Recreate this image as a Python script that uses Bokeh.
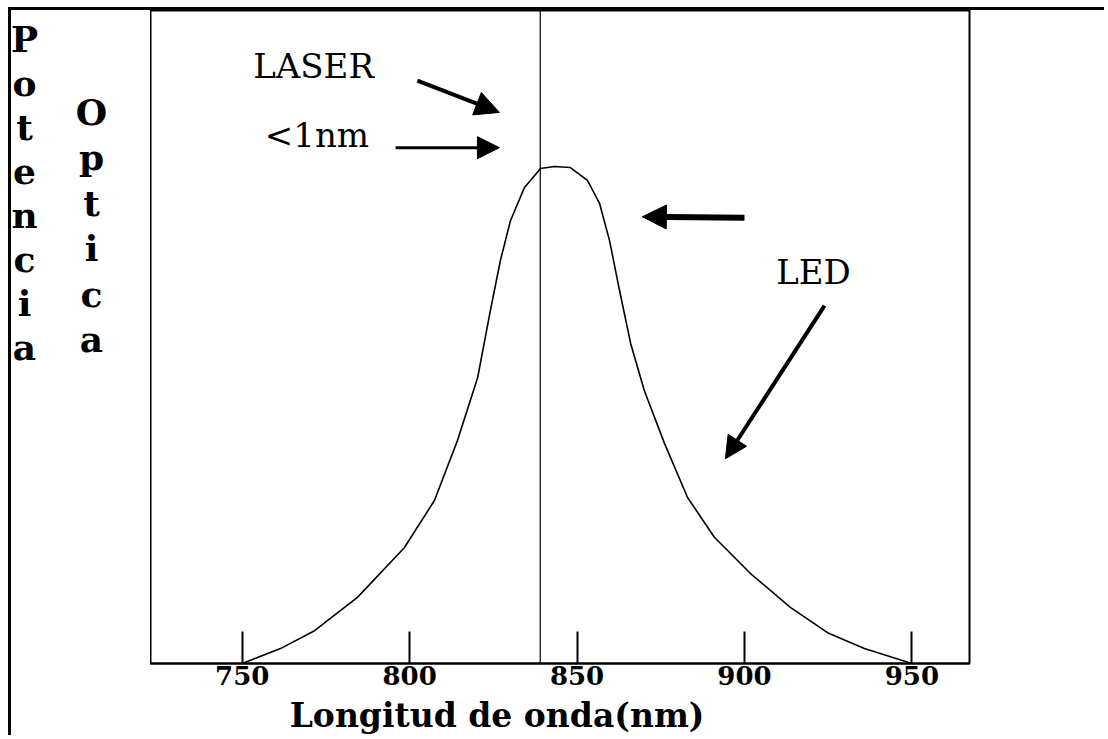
from bokeh.plotting import figure
from bokeh.layouts import row, column
from bokeh.models import Arrow, NormalHead, Label, Span, FixedTicker, Range1d
from bokeh.embed import file_html
from bokeh.resources import INLINE

# ---- data ----
wavelength_nm = [750, 761.4, 771.6, 784.4, 798.4, 807.4, 814.3, 820.3, 824.1, 827.1,
                 830.1, 834.3, 839.1, 843.2, 848.0, 853.1, 856.7, 859.7, 862.7, 866.0,
                 870.1, 876.1, 883.0, 891.0, 901.8, 913.7, 924.8, 935.8, 950]
led_power = [0, 0.030, 0.066, 0.133, 0.233, 0.328, 0.449, 0.575, 0.710, 0.811,
             0.891, 0.958, 0.996, 1.0, 0.998, 0.972, 0.926, 0.851, 0.750, 0.644,
             0.549, 0.443, 0.334, 0.254, 0.181, 0.113, 0.062, 0.030, 0]
laser_nm = 839
tick_nm = [750, 800, 850, 900, 950]
tick_labels = ["750", "800", "850", "900", "950"]
x_title = "Longitud de onda(nm)"
y_title_1 = "Potencia"
y_title_2 = "Optica"

SERIF = "DejaVu Serif"


def bare(fig):
    fig.xgrid.visible = False
    fig.ygrid.visible = False
    fig.outline_line_color = None
    fig.background_fill_color = "white"
    fig.border_fill_color = "white"


# ---------- left strip with the stacked y title ----------
left = figure(width=142, height=728, x_range=Range1d(0, 142), y_range=Range1d(0, 728),
              output_backend="svg", toolbar_location=None,
              x_axis_location=None, y_axis_location=None,
              min_border_left=0, min_border_right=0, min_border_top=0, min_border_bottom=0)
bare(left)
left.styles = {"border-left": "3px solid black", "border-top": "3px solid black"}
for x, y, t, lh in [(13, 721, y_title_1, 1.05), (80, 648, y_title_2, 1.085)]:
    left.add_layout(Label(x=x, y=y, text="\n".join(t), text_font=SERIF, text_font_size="36px",
                          text_font_style="bold", text_color="black", text_align="center",
                          text_baseline="top", text_line_height=lh))

# ---------- main chart ----------
x_rng = Range1d(722.6, 967.2)
p = figure(width=954, height=687, x_range=x_rng, y_range=Range1d(0, 1.314),
           output_backend="svg", toolbar_location=None, y_axis_location=None,
           min_border_left=0, min_border_right=135, min_border_top=0, min_border_bottom=34)
bare(p)
p.styles = {"border-top": "3px solid black"}
p.outline_line_color = "black"
p.outline_line_width = 2

ax = p.xaxis[0]
ax.ticker = FixedTicker(ticks=tick_nm, minor_ticks=[])
ax.major_label_overrides = {t: l for t, l in zip(tick_nm, tick_labels)}
ax.major_tick_in = 32
ax.major_tick_out = 0
ax.minor_tick_in = 0
ax.minor_tick_out = 0
ax.major_tick_line_width = 2
ax.major_tick_line_color = "black"
ax.axis_line_width = 2
ax.axis_line_color = "black"
ax.major_label_text_font = SERIF
ax.major_label_text_font_size = "26px"
ax.major_label_text_font_style = "bold"
ax.major_label_text_color = "black"
ax.major_label_standoff = 2

# LED spectrum
p.line(wavelength_nm, led_power, line_color="black", line_width=1.6)

# laser line
p.add_layout(Span(location=laser_nm, dimension="height", line_color="black", line_width=1.2))


def arrow(xs, ys, xe, ye, w, size):
    p.add_layout(Arrow(end=NormalHead(size=size, fill_color="black", line_color="black", line_width=1),
                       x_start=xs, y_start=ys, x_end=xe, y_end=ye,
                       line_width=w, line_color="black"))


arrow(802.3, 1.173, 826.8, 1.109, 4, 24)   # LASER arrow
arrow(795.8, 1.038, 826.8, 1.038, 3, 22)   # <1nm arrow
arrow(900.0, 0.897, 869.5, 0.899, 6, 24)   # left arrow to peak
arrow(923.9, 0.720, 894.3, 0.412, 4, 22)   # LED arrow


def label(fig, x, y, text, size, style="normal", baseline="alphabetic"):
    fig.add_layout(Label(x=x, y=y, text=text, text_font=SERIF, text_font_size=size,
                         text_font_style=style, text_color="black", text_align="center",
                         text_baseline=baseline))


label(p, 771.3, 1.203, "LASER", "34px")
label(p, 772.3, 1.064, "<1nm", "34px")
label(p, 920.6, 0.787, "LED", "34px")

# ---------- strip under the chart with the x title ----------
t = figure(width=954, height=41, x_range=x_rng, y_range=Range1d(0, 41),
           output_backend="svg", toolbar_location=None,
           x_axis_location=None, y_axis_location=None,
           min_border_left=0, min_border_right=135, min_border_top=0, min_border_bottom=0)
bare(t)
label(t, 826.1, 20.5, x_title, "33px", style="bold", baseline="middle")

layout = row(left, column(p, t, spacing=0), spacing=0)
layout.styles = {"margin-left": "8px", "margin-top": "7px"}

open("out.html", "w").write(file_html(layout, INLINE))
